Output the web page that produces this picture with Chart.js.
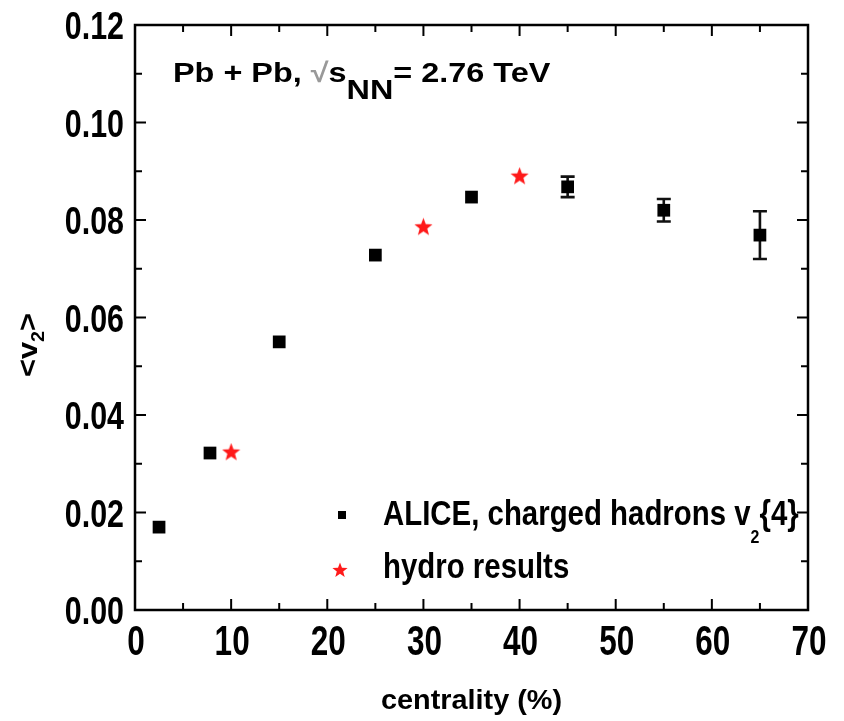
<!DOCTYPE html>
<html>
<head>
<meta charset="utf-8">
<title>v2 vs centrality</title>
<script src="https://cdn.jsdelivr.net/npm/chart.js@4.4.1/dist/chart.umd.min.js"></script>
<style>
  html, body { margin: 0; padding: 0; background: #fff; }
  #wrap { width: 844px; height: 721px; }
</style>
</head>
<body>
<div id="wrap"><canvas id="chart" width="844" height="721"></canvas></div>
<script>
// ALICE charged hadron v2{4}
const aliceX = [2.5, 7.8, 15, 25, 35, 45, 55, 65];
const aliceY = [0.0170, 0.0322, 0.0550, 0.0728, 0.0847, 0.0868, 0.0820, 0.0769];
const aliceErr = [0, 0, 0, 0, 0, 0.0021, 0.0023, 0.0049];

// hydro calculation
const hydroX = [10, 30, 40];
const hydroY = [0.0324, 0.0786, 0.0890];

// axis ticks
const xTicks = [0, 10, 20, 30, 40, 50, 60, 70];
const xMinor = [5, 15, 25, 35, 45, 55, 65];
const yTicks = ['0.00', '0.02', '0.04', '0.06', '0.08', '0.10', '0.12'];
const yMinor = [0.01, 0.03, 0.05, 0.07, 0.09, 0.11];

const FONT = '"Liberation Sans", Arial, sans-serif';

// filled five-point star used as point style
function makeStar(size, color) {
    const c = document.createElement('canvas');
    c.width = size; c.height = size;
    const g = c.getContext('2d');
    const R = size / 2, r = R * 0.42;
    g.fillStyle = color;
    g.beginPath();
    for (let i = 0; i < 10; i++) {
        const rad = i % 2 === 0 ? R : r;
        const a = -Math.PI / 2 + i * Math.PI / 5;
        const px = R + rad * Math.cos(a), py = R + 0.5 + rad * Math.sin(a);
        if (i === 0) g.moveTo(px, py); else g.lineTo(px, py);
    }
    g.closePath();
    g.fill();
    return c;
}
const starImg = makeStar(19, '#ff1a1a');
const starLegend = makeStar(16, '#ff1a1a');

// text runs: [{t, size, dy, color}] drawn left to right, horizontally scaled by sx
function drawRuns(ctx, runs, x, y, sx, align) {
    ctx.save();
    ctx.textBaseline = 'alphabetic';
    ctx.textAlign = 'left';
    let total = 0;
    runs.forEach(r => {
        ctx.font = 'bold ' + r.size + 'px ' + FONT;
        r.w = ctx.measureText(r.t).width;
        total += r.w;
    });
    ctx.translate(x, y);
    ctx.scale(sx, 1);
    let cx = align === 'center' ? -total / 2 : align === 'right' ? -total : 0;
    runs.forEach(r => {
        ctx.font = 'bold ' + r.size + 'px ' + FONT;
        ctx.fillStyle = r.color || '#000';
        ctx.fillText(r.t, cx, r.dy || 0);
        cx += r.w;
    });
    ctx.restore();
}

const frame = {
    id: 'frame',
    beforeDatasetsDraw(chart) {
        const ctx = chart.ctx;
        const xs = chart.scales.x, ys = chart.scales.y;

        // error bars
        ctx.save();
        ctx.strokeStyle = '#111';
        ctx.lineWidth = 2.6;
        aliceX.forEach((xv, i) => {
            if (!aliceErr[i]) return;
            const px = xs.getPixelForValue(xv);
            const y1 = ys.getPixelForValue(aliceY[i] + aliceErr[i]);
            const y2 = ys.getPixelForValue(aliceY[i] - aliceErr[i]);
            ctx.beginPath();
            ctx.moveTo(px, y1); ctx.lineTo(px, y2);
            ctx.moveTo(px - 7, y1); ctx.lineTo(px + 7, y1);
            ctx.moveTo(px - 7, y2); ctx.lineTo(px + 7, y2);
            ctx.stroke();
        });
        ctx.restore();
    },
    afterDraw(chart) {
        const ctx = chart.ctx;
        const { left, right, top, bottom } = chart.chartArea;
        const xs = chart.scales.x, ys = chart.scales.y;
        const major = 11, minor = 7;

        ctx.save();
        ctx.strokeStyle = '#000';
        ctx.lineWidth = 2.5;
        ctx.strokeRect(left, top, right - left, bottom - top);

        ctx.lineWidth = 2;
        ctx.beginPath();
        const xTick = (v, len) => {
            const p = xs.getPixelForValue(v);
            ctx.moveTo(p, bottom); ctx.lineTo(p, bottom - len);
            ctx.moveTo(p, top); ctx.lineTo(p, top + len);
        };
        const yTick = (v, len) => {
            const p = ys.getPixelForValue(v);
            ctx.moveTo(left, p); ctx.lineTo(left + len, p);
            ctx.moveTo(right, p); ctx.lineTo(right - len, p);
        };
        xTicks.slice(1, -1).forEach(v => xTick(v, major));
        xMinor.forEach(v => xTick(v, minor));
        yTicks.slice(1, -1).forEach(v => yTick(parseFloat(v), major));
        yMinor.forEach(v => yTick(v, minor));
        ctx.stroke();
        ctx.restore();

        // tick labels
        xTicks.forEach(v => {
            drawRuns(ctx, [{ t: String(v), size: 42 }], xs.getPixelForValue(v) + 1, 655, 0.75, 'center');
        });
        yTicks.forEach(v => {
            drawRuns(ctx, [{ t: v, size: 38 }], 124, ys.getPixelForValue(parseFloat(v)) + 14, 0.8, 'right');
        });

        // axis titles
        drawRuns(ctx, [{ t: 'centrality (%)', size: 28 }], (left + right) / 2, 709, 1.03, 'center');
        ctx.save();
        ctx.translate(37, 345);
        ctx.rotate(-Math.PI / 2);
        drawRuns(ctx, [
            { t: '<v', size: 28 },
            { t: '2', size: 18, dy: 7 },
            { t: '>', size: 28 }
        ], 0, 0, 1.1, 'center');
        ctx.restore();

        // system label
        drawRuns(ctx, [
            { t: 'Pb + Pb, ', size: 27 },
            { t: '√', size: 27, color: '#999' },
            { t: 's', size: 27 },
            { t: 'NN', size: 27, dy: 17 },
            { t: '= 2.76 TeV', size: 27 }
        ], 173, 82, 1.2, 'left');

        // legend
        ctx.fillStyle = '#000';
        ctx.fillRect(338, 511, 8, 8);
        ctx.drawImage(starLegend, 340 - 8, 570 - 8);
        drawRuns(ctx, [
            { t: 'ALICE, charged hadrons v', size: 35 },
            { t: '2', size: 19, dy: 18 },
            { t: '{4}', size: 35 }
        ], 383, 525, 0.84, 'left');
        drawRuns(ctx, [{ t: 'hydro results', size: 35 }], 383, 578, 0.84, 'left');
    }
};

new Chart(document.getElementById('chart'), {
    type: 'scatter',
    data: {
        datasets: [
            {
                label: 'ALICE, charged hadrons v2{4}',
                data: aliceX.map((x, i) => ({ x: x, y: aliceY[i] })),
                pointStyle: 'rect',
                pointRadius: 9,
                pointHoverRadius: 9,
                backgroundColor: '#000',
                borderColor: '#000',
                borderWidth: 0
            },
            {
                label: 'hydro results',
                data: hydroX.map((x, i) => ({ x: x, y: hydroY[i] })),
                pointStyle: starImg,
                pointRadius: 9,
                backgroundColor: '#ff1a1a',
                borderColor: '#ff1a1a'
            }
        ]
    },
    options: {
        responsive: false,
        animation: false,
        events: [],
        layout: { padding: { left: 135, right: 36, top: 25, bottom: 111 } },
        plugins: { legend: { display: false }, tooltip: { enabled: false } },
        scales: {
            x: { type: 'linear', min: 0, max: 70, display: false },
            y: { type: 'linear', min: 0, max: 0.12, display: false }
        }
    },
    plugins: [frame]
});
</script>
</body>
</html>
